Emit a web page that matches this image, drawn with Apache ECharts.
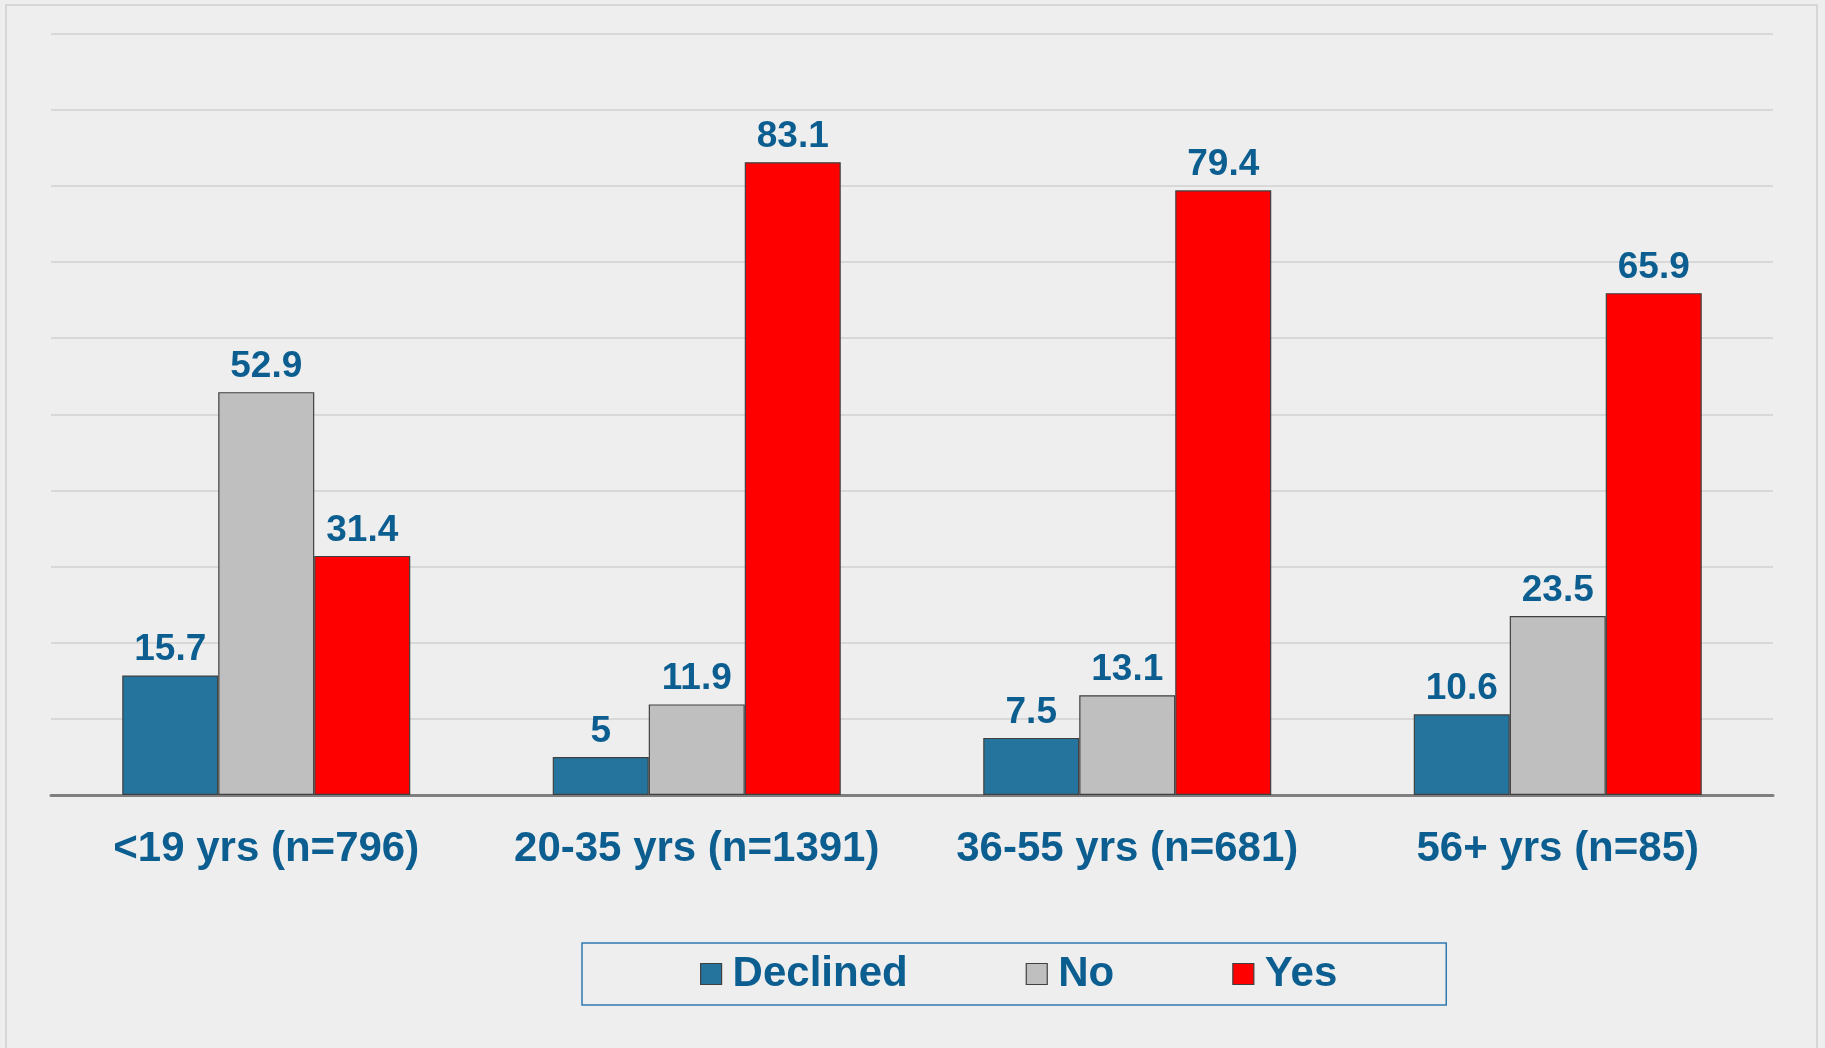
<!DOCTYPE html>
<html>
<head>
<meta charset="utf-8">
<script src="https://cdn.jsdelivr.net/npm/echarts@6/dist/echarts.min.js"></script>
<style>
  html, body { margin: 0; padding: 0; background: #eeeeee; }
  #chart { width: 1825px; height: 1048px; }
</style>
</head>
<body>
<div id="chart"></div>
<script>
// 年龄组
const categories = ['<19 yrs (n=796)', '20-35 yrs (n=1391)', '36-55 yrs (n=681)', '56+ yrs (n=85)'];
const declined = [15.7, 5, 7.5, 10.6];
const no = [52.9, 11.9, 13.1, 23.5];
const yes = [31.4, 83.1, 79.4, 65.9];

const labelColor = '#0b5e8f';
const font = 'Liberation Sans, Arial, sans-serif';

let myChart = echarts.init(document.getElementById('chart'));

function makeSeries(name, data, color) {
  return {
    name: name,
    type: 'bar',
    barWidth: 96,
    barGap: '0%',
    data: data,
    itemStyle: { color: color, borderColor: '#404040', borderWidth: 1.2 },
    label: {
      show: true,
      position: 'top',
      distance: 7,
      color: labelColor,
      fontFamily: font,
      fontWeight: 'bold',
      fontSize: 37
    }
  };
}

let option = {
  backgroundColor: '#eeeeee',
  animation: false,
  graphic: [{
    type: 'rect',
    shape: { x: 6, y: 5, width: 1811, height: 1100 },
    style: { fill: 'none', stroke: '#d6d6d6', lineWidth: 2 },
    silent: true
  }],
  grid: { left: 51, right: 52, top: 33.5, bottom: 253 },
  legend: {
    left: 582,
    top: 943,
    padding: [10, 109, 10, 118],
    borderColor: '#2e7bb0',
    borderWidth: 1.5,
    icon: 'rect',
    itemWidth: 21,
    itemHeight: 21,
    itemGap: 118,
    itemStyle: { borderColor: '#404040', borderWidth: 1.2 },
    textStyle: {
      color: labelColor, fontFamily: font, fontWeight: 'bold', fontSize: 42,
      padding: [0, 0, 0, 6]
    },
    data: ['Declined', 'No', 'Yes']
  },
  xAxis: {
    type: 'category',
    data: categories,
    axisLine: { lineStyle: { color: '#7f7f7f', width: 3 } },
    axisTick: { show: false },
    axisLabel: {
      interval: 0,
      margin: 33,
      color: labelColor,
      fontFamily: font,
      fontWeight: 'bold',
      fontSize: 42
    }
  },
  yAxis: {
    type: 'value',
    min: 0,
    max: 100,
    interval: 10,
    axisLabel: { show: false },
    axisLine: { show: false },
    axisTick: { show: false },
    splitLine: { lineStyle: { color: '#d0d0d0', width: 1.5 } }
  },
  series: [
    makeSeries('Declined', declined, '#25749e'),
    makeSeries('No', no, '#bfbfbf'),
    makeSeries('Yes', yes, '#ff0000')
  ]
};

myChart.setOption(option);
</script>
</body>
</html>
